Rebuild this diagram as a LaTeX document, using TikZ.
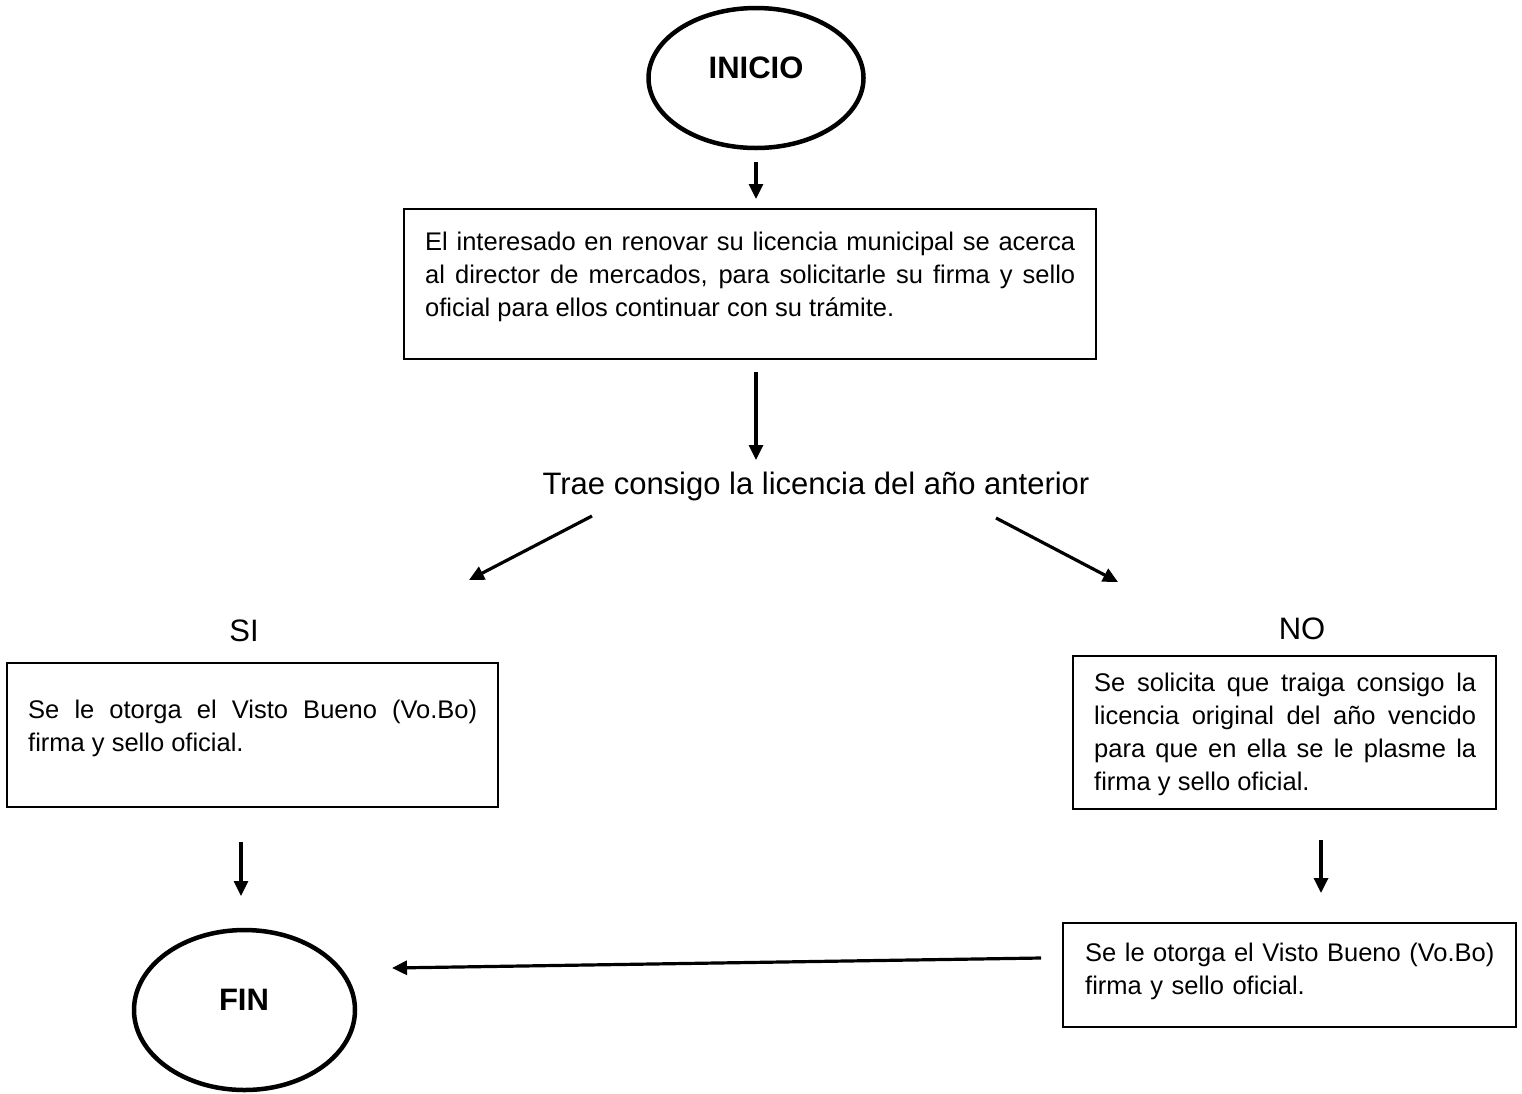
\documentclass[tikz,border=0pt]{standalone}
\usepackage{fontspec}
\setmainfont{Liberation Sans}
\usetikzlibrary{shapes.geometric,arrows.meta}
\tikzset{
  term/.style={ellipse,draw,line width=4.5pt,inner sep=0pt},
  procbox/.style={rectangle,draw,line width=2.8pt,inner sep=0pt},
  boxtext/.style={anchor=north west,inner sep=0pt,align=justify,font=\fontsize{25.5}{33}\selectfont},
  flow/.style={line width=3.2pt,-{Triangle[length=15pt,width=14pt]}},
  bigtext/.style={font=\fontsize{31}{36}\selectfont,inner sep=0pt},
  termtext/.style={inner sep=0pt,font=\fontsize{31}{36}\selectfont\bfseries},
}
\begin{document}
\begin{tikzpicture}[x=1pt,y=-1pt]
\useasboundingbox[fill=white] (0,0) rectangle (1522,1093);
% terminals
\node[term,minimum width=215pt,minimum height=140pt] (inicio) at (756,78) {};
\node[termtext] (tinicio) at (756,68) {INICIO};
\node[term,minimum width=221pt,minimum height=160pt] (fin) at (244.5,1010) {};
\node[termtext] (tfin) at (244,1000) {FIN};
% box 1
\node[procbox,minimum width=692pt,minimum height=150pt] (b1) at (750,284) {};
\node[boxtext,text width=650pt] (t1) at (425,232) {El interesado en renovar su licencia municipal se acerca\linebreak al director de mercados, para solicitarle su firma y sello\linebreak oficial para ellos continuar con su trámite.};
% decision
\node[bigtext] (dec) at (816,486) {Trae consigo la licencia del año anterior};
\node[bigtext] (si) at (244,631) {SI};
\node[bigtext] (no) at (1302,629) {NO};
% SI box
\node[procbox,minimum width=491pt,minimum height=144pt] (bsi) at (252.5,735) {};
\node[boxtext,text width=449pt] (tsi) at (28,700) {Se le otorga el Visto Bueno (Vo.Bo)\linebreak firma y sello oficial.};
% NO box
\node[procbox,minimum width=423pt,minimum height=153pt] (bno) at (1284.5,732.5) {};
\node[boxtext,text width=382pt] (tno) at (1094,673) {Se solicita que traiga consigo la\linebreak licencia original del año vencido\linebreak para que en ella se le plasme la\linebreak firma y sello oficial.};
% NO box 2
\node[procbox,minimum width=453pt,minimum height=104pt] (bno2) at (1289.5,975) {};
\node[boxtext,text width=425pt,align=left] (tno2) at (1085,943) {Se le otorga el Visto Bueno (Vo.Bo)\\firma y sello oficial.};
% arrow end coordinates
\coordinate (a1s) at (756,162); \coordinate (a1e) at (756,199);
\coordinate (a2s) at (756,372); \coordinate (a2e) at (756,460);
\coordinate (a3s) at (592,516); \coordinate (a3e) at (469,580);
\coordinate (a4s) at (996,518); \coordinate (a4e) at (1118,582);
\coordinate (a5s) at (241,842); \coordinate (a5e) at (241,896);
\coordinate (a6s) at (1321,840); \coordinate (a6e) at (1321,893);
\coordinate (a7s) at (1041,958); \coordinate (a7e) at (392,968);
\draw[flow] (a1s) -- (a1e);
\draw[flow] (a2s) -- (a2e);
\draw[flow] (a3s) -- (a3e);
\draw[flow] (a4s) -- (a4e);
\draw[flow] (a5s) -- (a5e);
\draw[flow] (a6s) -- (a6e);
\draw[flow] (a7s) -- (a7e);
\end{tikzpicture}
\end{document}
